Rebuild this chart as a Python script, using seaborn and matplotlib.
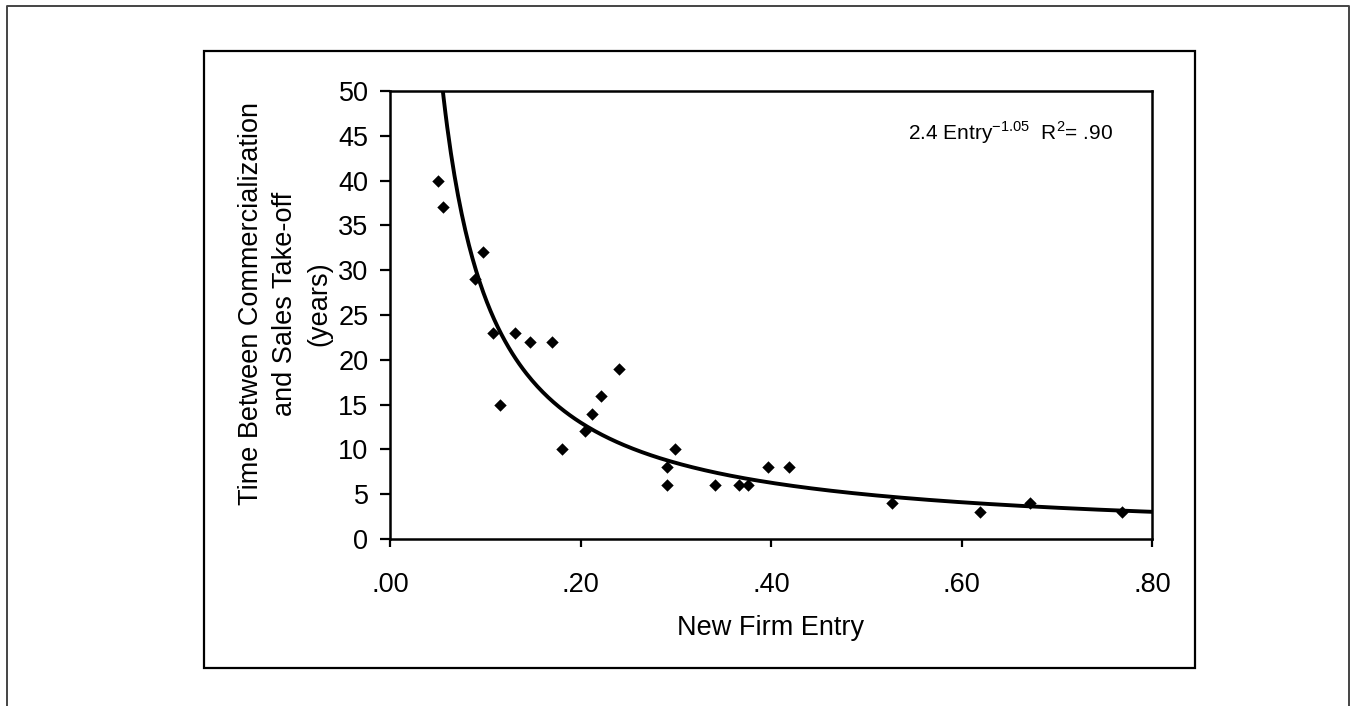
import numpy as np
import pandas as pd
import seaborn as sns
import matplotlib.pyplot as plt
from matplotlib.ticker import FuncFormatter, MultipleLocator
from matplotlib.lines import Line2D

# data
entry = [0.050, 0.056, 0.089, 0.098, 0.108, 0.116, 0.131, 0.147, 0.170,
         0.181, 0.205, 0.212, 0.221, 0.240, 0.291, 0.291, 0.299, 0.341,
         0.366, 0.376, 0.397, 0.419, 0.527, 0.619, 0.672, 0.769]
takeoff = [40, 37, 29, 32, 23, 15, 23, 22, 22,
           10, 12, 14, 16, 19, 8, 6, 10, 6,
           6, 6, 8, 8, 4, 3, 4, 3]

# power trend line as printed on the chart
fit_coef = 2.4
fit_exp = -1.05
r_squared = ".90"

df = pd.DataFrame({"entry": entry, "takeoff": takeoff})
curve_x = np.linspace(0.045, 0.80, 400)
curve = pd.DataFrame({"entry": curve_x, "takeoff": fit_coef * curve_x ** fit_exp})

sns.set_style("white")
plt.rcParams["font.family"] = ["Liberation Sans", "DejaVu Sans"]
plt.rcParams["mathtext.fontset"] = "custom"
plt.rcParams["mathtext.rm"] = "Liberation Sans"
for k in ["text.color", "axes.labelcolor", "xtick.color", "ytick.color"]:
    plt.rcParams[k] = "black"

W, H = 1351, 706
fig = plt.figure(figsize=(W / 100, H / 100), dpi=100)
ax = fig.add_axes([390 / W, 1 - 539 / H, (1152 - 390) / W, (539 - 91) / H])

sns.lineplot(data=curve, x="entry", y="takeoff", ax=ax, color="black",
             linewidth=2.8, estimator=None, sort=True)
sns.scatterplot(data=df, x="entry", y="takeoff", ax=ax, marker="D",
                color="black", s=40, linewidth=0, zorder=3)

ax.set_xlim(0, 0.8)
ax.set_ylim(0, 50)
ax.xaxis.set_major_locator(MultipleLocator(0.2))
ax.yaxis.set_major_locator(MultipleLocator(5))
ax.xaxis.set_major_formatter(FuncFormatter(lambda v, p: f"{v:.2f}".lstrip("0")))

for s in ax.spines.values():
    s.set_linewidth(1.8)
    s.set_color("black")
ax.tick_params(axis="y", direction="out", length=7.5, width=1.6, pad=8,
               labelsize=19.5, left=True)
ax.tick_params(axis="x", direction="out", length=6, width=1.6, pad=18,
               labelsize=19.5, bottom=True)

ax.set_xlabel("New Firm Entry", fontsize=19.5, labelpad=12)
ax.set_ylabel("Time Between Commercialization\nand Sales Take-off\n(years)",
              fontsize=19.5, linespacing=1.4)
ax.yaxis.set_label_coords(-0.076, 0.525)

fig.text(908 / W, 1 - 140 / H,
         f"{fit_coef} Entry$^{{\\mathregular{{{fit_exp}}}}}$  R$^{{\\mathregular{{2}}}}$= {r_squared}",
         fontsize=15, va="baseline", ha="left")

# inner chart frame and outer page frame
fig.add_artist(plt.Rectangle((204 / W, 1 - 668 / H), (1195 - 204) / W, (668 - 51) / H,
                             transform=fig.transFigure, fill=False,
                             edgecolor="black", linewidth=1.6))
fig.add_artist(Line2D([7 / W, 7 / W, 1349 / W, 1349 / W], [0, 1 - 6 / H, 1 - 6 / H, 0],
                      transform=fig.transFigure, color="#444444", linewidth=1.4))

fig.savefig("out.png", dpi=100)
